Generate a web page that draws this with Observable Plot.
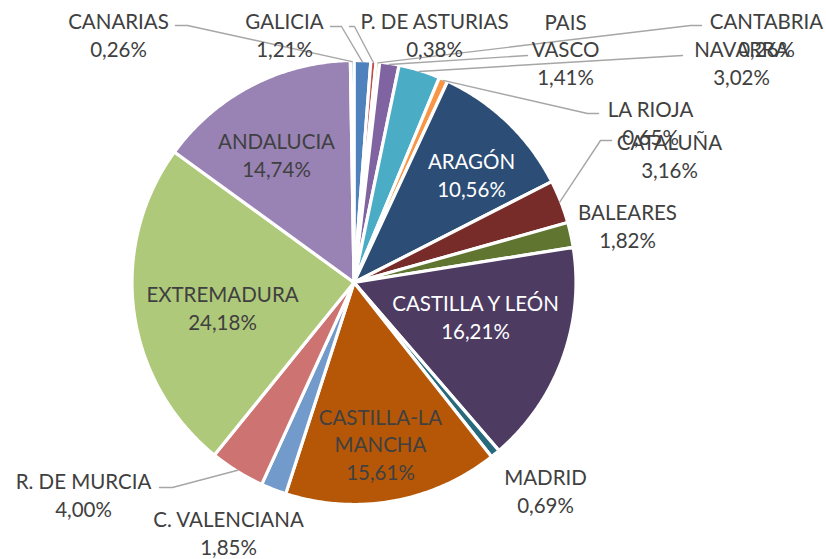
<!DOCTYPE html>
<html><head><meta charset="utf-8">
<script src="https://cdn.jsdelivr.net/npm/d3@7"></script>
<script src="https://cdn.jsdelivr.net/npm/@observablehq/plot@0.6"></script>
<style>body{margin:0;background:#fff;} svg{display:block;}</style>
</head><body><div id="chart"></div>
<script>
// Data (clockwise from 12 o'clock)
const regions = ["GALICIA","P. DE ASTURIAS","CANTABRIA","PAIS VASCO","NAVARRA","LA RIOJA","ARAGÓN","CATALUÑA","BALEARES","CASTILLA Y LEÓN","MADRID","CASTILLA-LA MANCHA","C. VALENCIANA","R. DE MURCIA","EXTREMADURA","ANDALUCIA","CANARIAS"];
const shares = [1.21,0.38,0.26,1.41,3.02,0.65,10.56,3.16,1.82,16.21,0.69,15.61,1.85,4.00,24.18,14.74,0.26];
const labelNames = ["GALICIA","P. DE ASTURIAS","CANTABRIA","PAIS\nVASCO","NAVARRA","LA RIOJA","ARAGÓN","CATALUÑA","BALEARES","CASTILLA Y LEÓN","MADRID","CASTILLA-LA\nMANCHA","C. VALENCIANA","R. DE MURCIA","EXTREMADURA","ANDALUCIA","CANARIAS"];
const sliceColors = ["#4F81BD","#C0504D","#9BBB59","#8064A2","#4BACC6","#F79646","#2C4D75","#772C2A","#5F7530","#4D3B62","#276A7C","#B65708","#729ACA","#CD7371","#AFC97A","#9983B5","#6FBDD1"];

// Layout (pixels)
const CX = 353.5, CY = 282, R = 222;
const labelPos = [[284,34],[434,34],[766,34],[565,48],[741,62],[650,122],[471,174],[669,155],[627,225],[475,316],[545,490],[380,443],[228,532],[83,494],[222,307],[276,154],[118,34]];
const labelWhite = ["ARAGÓN","CASTILLA Y LEÓN"];
const leaderElbows = {
  "CANARIAS": [[187,25],[175,25]],
  "GALICIA": [[341,26],[330,26]],
  "P. DE ASTURIAS": [[354,26],[349,26]],
  "CANTABRIA": [[690,25],[701,25]],
  "PAIS VASCO": [[527,55]],
  "NAVARRA": [[682,55]],
  "LA RIOJA": [[587,113],[598,113]],
  "CATALUÑA": [[600,140],[611,140]],
  "R. DE MURCIA": [[172,487],[159,487]]
};

const toU = ([px, py]) => ({x: (px - CX) / R, y: (CY - py) / R});

const arcs = d3.pie().sort(null).value(d => d)(shares);
const slicePts = [];
arcs.forEach((a, i) => {
  const name = regions[i];
  slicePts.push({name, x: 0, y: 0});
  const n = Math.max(2, Math.ceil((a.endAngle - a.startAngle) / 0.01));
  for (let k = 0; k <= n; k++) {
    const t = a.startAngle + (a.endAngle - a.startAngle) * k / n;
    slicePts.push({name, x: Math.sin(t), y: Math.cos(t)});
  }
});

const leaderPts = [];
arcs.forEach((a, i) => {
  const name = regions[i];
  const el = leaderElbows[name];
  if (!el) return;
  const m = (a.startAngle + a.endAngle) / 2;
  leaderPts.push({name, x: Math.sin(m) * 0.995, y: Math.cos(m) * 0.995});
  el.forEach(p => leaderPts.push({name, ...toU(p)}));
});

const labels = regions.map((name, i) => ({
  name,
  text: labelNames[i] + "\n" + shares[i].toFixed(2).replace(".", ",") + "%",
  ...toU(labelPos[i]),
  color: labelWhite.includes(name) ? "#FFFFFF" : "#404040"
}));

const chart = Plot.plot({
  width: 826, height: 559, margin: 0,
  style: {background: "#fff"},
  x: {domain: [-1, 1], range: [CX - R, CX + R], axis: null},
  y: {domain: [-1, 1], range: [CY + R, CY - R], axis: null},
  color: {domain: regions, range: sliceColors},
  marks: [
    Plot.line(slicePts, {x: "x", y: "y", z: "name", fill: "name", stroke: "white", strokeWidth: 3.2, curve: "linear-closed"}),
    Plot.line(leaderPts, {x: "x", y: "y", z: "name", stroke: "#A6A6A6", strokeWidth: 1.4}),
    Plot.text(labels, {x: "x", y: "y", text: "text", fill: d => d.color, fontSize: 20.5, lineHeight: 1.36, fontFamily: "Lato", textAnchor: "middle", lineAnchor: "middle"})
  ]
});
document.getElementById("chart").appendChild(chart);
</script>
</body></html>
